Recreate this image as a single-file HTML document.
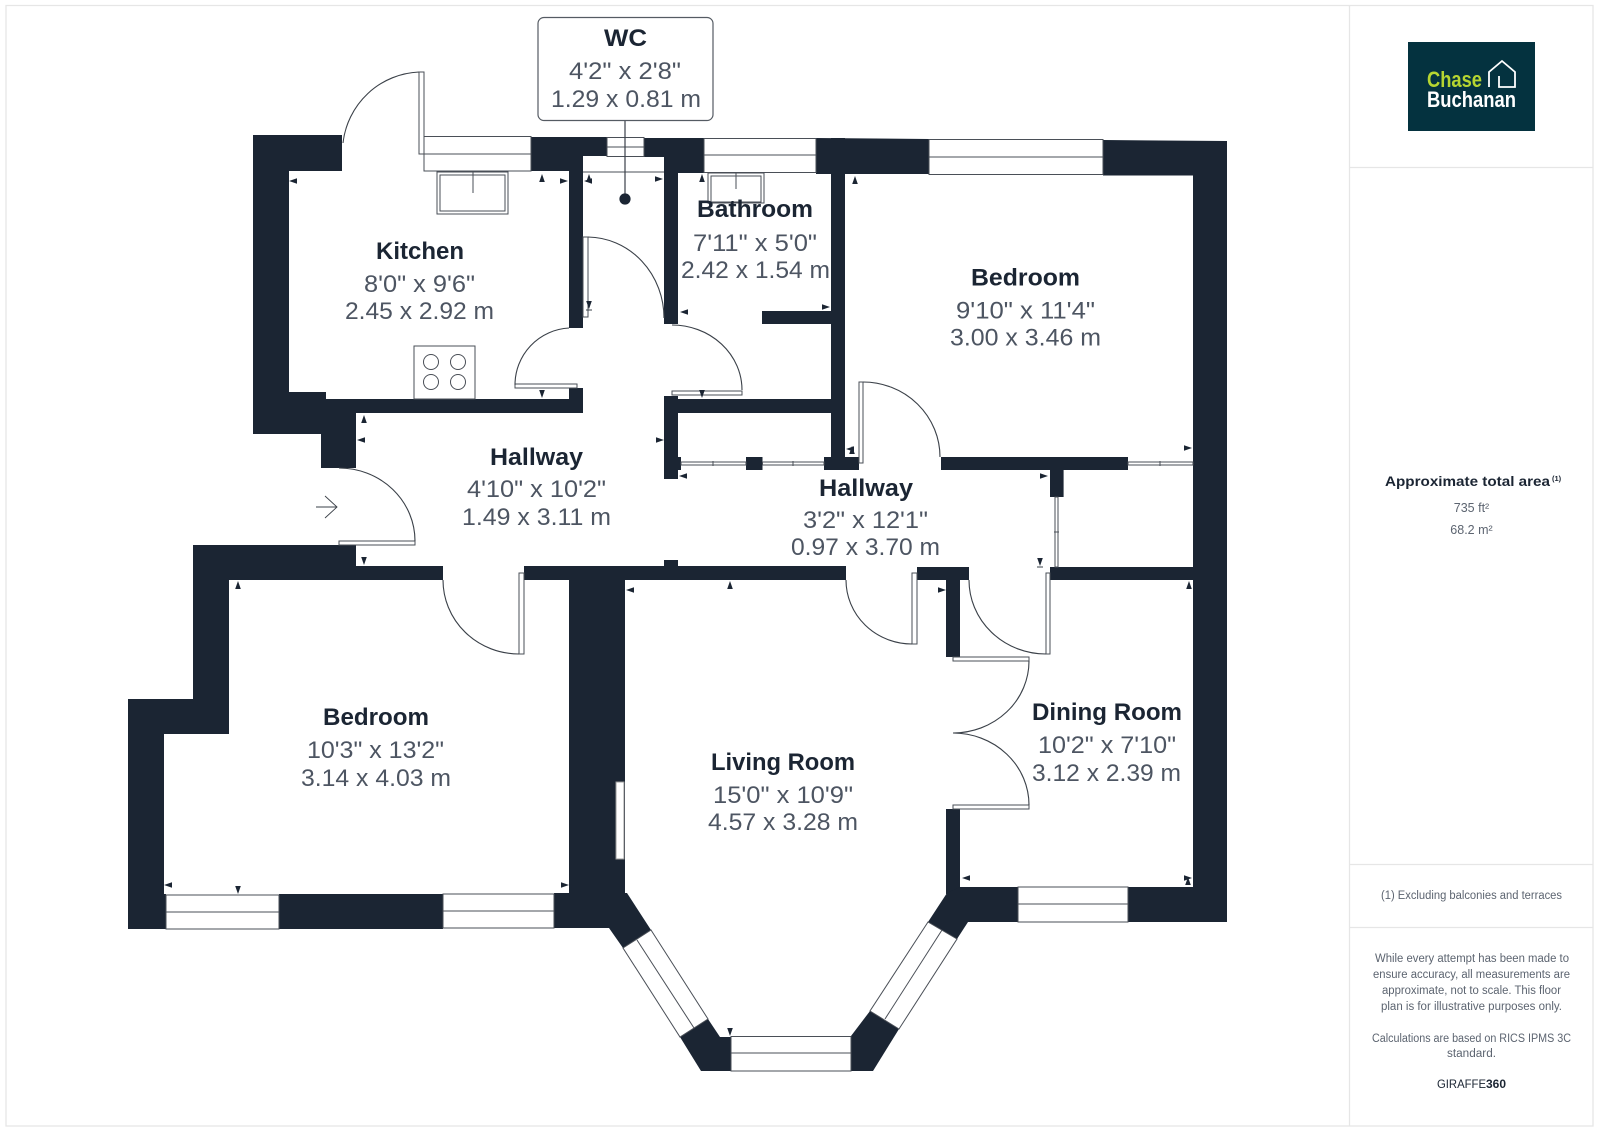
<!DOCTYPE html>
<html><head><meta charset="utf-8"><title>Floor plan</title>
<style>
html,body{margin:0;padding:0;background:#fff}
svg{display:block}
.h{font:700 24px "Liberation Sans",sans-serif;fill:#1b2533;text-anchor:start}
.b{font:400 24px "Liberation Sans",sans-serif;fill:#4d5562;text-anchor:start}
.s{font:400 11.5px "Liberation Sans",sans-serif;fill:#5c6470}
.w{fill:#1b2533}
.o{fill:#fff;stroke:#4a4f57;stroke-width:1}
.l{fill:none;stroke:#3a4048;stroke-width:1.1}
</style></head><body>
<svg width="1600" height="1131" viewBox="0 0 1600 1131" xmlns="http://www.w3.org/2000/svg">
<defs><path id="t" d="M0,0L-2.8,8L2.8,8Z" fill="#1b2533"/></defs>
<rect width="1600" height="1131" fill="#fff"/>
<!-- frame -->
<g fill="none" stroke="#e6e6e6" stroke-width="1.3">
<rect x="6" y="5.5" width="1587" height="1120.5"/>
<path d="M1349.5 5V1126M1350 167.5H1593M1350 864.5H1593M1350 927.5H1593"/>
</g>
<!-- walls -->
<g class="w">
<rect x="253" y="135" width="89" height="36"/>
<rect x="253" y="135" width="36" height="299"/>
<rect x="253" y="392" width="73" height="42"/>
<rect x="321" y="399" width="35" height="69"/>
<rect x="325" y="399" width="258" height="14"/>
<rect x="569" y="388" width="14" height="25"/>
<rect x="569" y="137" width="14" height="191"/>
<rect x="531" y="137" width="38" height="34"/>
<rect x="569" y="137" width="38" height="19"/>
<rect x="644" y="138" width="20" height="19"/>
<rect x="664" y="138" width="14" height="186"/>
<rect x="678" y="138" width="26" height="35"/>
<polygon points="816,138 929,139 929,174 816,174"/>
<polygon points="1103,140 1227,141 1227,175.5 1103,175.5"/>
<rect x="831" y="138" width="14" height="332"/>
<rect x="762" y="311" width="69" height="13"/>
<rect x="678" y="399" width="154" height="14"/>
<rect x="664" y="396" width="14" height="83"/>
<rect x="678" y="457" width="3" height="13"/>
<rect x="824" y="457" width="35" height="13"/>
<rect x="746" y="457" width="16.500" height="13"/>
<rect x="941" y="457" width="187" height="13"/>
<rect x="1050" y="470" width="13.600" height="27"/>
<rect x="1193" y="141" width="34" height="781"/>
<rect x="960" y="887" width="58" height="35"/>
<rect x="1128" y="887" width="99" height="35"/>
<rect x="946" y="809" width="14" height="85"/>
<polygon points="947,893 960,887 968,887 968,922 957,939 928,922"/>
<rect x="193" y="545" width="163" height="35"/>
<rect x="356" y="566" width="87" height="14"/>
<rect x="524" y="566" width="308" height="14"/>
<rect x="832" y="566" width="14" height="14"/>
<rect x="664" y="560" width="14" height="6"/>
<rect x="917" y="567" width="52" height="13"/>
<rect x="946" y="580" width="14" height="77"/>
<rect x="1050" y="567" width="143" height="13"/>
<rect x="193" y="545" width="36" height="189"/>
<rect x="128" y="699" width="101" height="35"/>
<rect x="128" y="699" width="36" height="230"/>
<rect x="128" y="894" width="38" height="35"/>
<rect x="279" y="894" width="164" height="35"/>
<rect x="554" y="893" width="71" height="35"/>
<rect x="569" y="566" width="56" height="330"/>
<polygon points="625,893 627,893 651,930 623,948 609,928 600,928 600,893"/>
<polygon points="708,1019 720,1037 731,1037 731,1071 701,1071 680,1037"/>
<polygon points="870,1011 899,1029 873,1071 851,1071 851,1036"/>
</g>
<!-- windows -->
<g class="o">
<rect x="424" y="136.500" width="107" height="34.500"/><path d="M419 154H531"/>
<rect x="607" y="137.500" width="37" height="19"/><path d="M607 147H644M583 172H664"/>
<rect x="704" y="138.500" width="112" height="34"/><path d="M704 155H816"/>
<rect x="929" y="139.500" width="174" height="35"/><path d="M929 157H1103"/>
<rect x="1018" y="887" width="110" height="35"/><path d="M1018 904H1128"/>
<rect x="166" y="895" width="113" height="34"/><path d="M166 912H279"/>
<rect x="443" y="894" width="111" height="34"/><path d="M443 911H554"/>
<rect x="731" y="1036.500" width="120" height="34.500"/><path d="M731 1053H851"/>
<polygon points="928,922 870,1011 899,1029 957,939"/><path d="M942,930L885,1019"/>
<polygon points="651,930 708,1019 680,1037 623,948"/><path d="M637,940L694,1028"/>
<rect x="616" y="782" width="8" height="77" stroke="#999"/>
<!-- door leaves -->
<rect x="419" y="72" width="5" height="82"/>
<rect x="583" y="237" width="5" height="80"/>
<rect x="515" y="384" width="62" height="4"/>
<rect x="672" y="391" width="70" height="4"/>
<rect x="339" y="541" width="76" height="4"/>
<rect x="519" y="573" width="5" height="81"/>
<rect x="859" y="382" width="4" height="81"/>
<rect x="912" y="573" width="5" height="71"/>
<rect x="1046" y="573" width="4" height="81"/>
<rect x="953" y="657" width="76" height="4"/>
<rect x="953" y="805" width="76" height="4"/>
<!-- sliding -->
<rect x="681" y="462" width="65" height="3"/><path d="M713 461V466"/>
<rect x="762.500" y="462" width="61.500" height="3"/><path d="M793 461V466"/>
<rect x="1128" y="462" width="65" height="3"/><path d="M1160 461V466"/>
<rect x="1055" y="497" width="3" height="70"/><path d="M1054 532H1059"/>
<!-- fixtures -->
<rect x="437" y="172" width="71" height="42"/><rect x="440" y="175" width="65" height="36"/><path d="M473 172V193"/>
<rect x="708" y="173" width="56" height="30"/><rect x="711" y="176" width="50" height="26"/><path d="M736 173V189"/>
<rect x="414" y="346" width="61" height="53"/>
<circle cx="431" cy="362" r="7.500"/><circle cx="458" cy="362" r="7.500"/><circle cx="431" cy="382" r="7.500"/><circle cx="458" cy="382" r="7.500"/>
</g>
<!-- door arcs -->
<g class="l">
<path d="M419,72A80,80 0 0 0 343,143"/>
<path d="M588,237A77,81 0 0 1 664,318"/>
<path d="M569,328A57,57 0 0 0 515,385"/>
<path d="M672,325A70,65 0 0 1 742,390"/>
<path d="M339,468A76,73 0 0 1 415,541"/>
<path d="M443,580A76,74 0 0 0 519,654"/>
<path d="M863,382A77,75 0 0 1 940,457"/>
<path d="M846,580A66,64 0 0 0 912,644"/>
<path d="M969,580A77,74 0 0 0 1046,654"/>
<path d="M1029,661A76,72 0 0 1 953,733"/>
<path d="M1029,805A76,72 0 0 0 953,733"/>
<path d="M316,507H337M325,496L337,507L325,518" stroke-width=".9"/>
<path d="M586,310H592M1037,567H1043"/>
</g>
<!-- markers -->
<g>
<use href="#t" transform="translate(289,181) rotate(-90)"/>
<use href="#t" transform="translate(357,440) rotate(-90)"/>
<use href="#t" transform="translate(680,312) rotate(-90)"/>
<use href="#t" transform="translate(679,476) rotate(-90)"/>
<use href="#t" transform="translate(626,590) rotate(-90)"/>
<use href="#t" transform="translate(962,878) rotate(-90)"/>
<use href="#t" transform="translate(164,885) rotate(-90)"/>
<use href="#t" transform="translate(846,449) rotate(-90)"/>
<use href="#t" transform="translate(584,181) rotate(-90)"/>
<use href="#t" transform="translate(568,181) rotate(90)"/>
<use href="#t" transform="translate(663,179) rotate(90)"/>
<use href="#t" transform="translate(830,307) rotate(90)"/>
<use href="#t" transform="translate(664,440) rotate(90)"/>
<use href="#t" transform="translate(1048,476) rotate(90)"/>
<use href="#t" transform="translate(946,590) rotate(90)"/>
<use href="#t" transform="translate(1192,448) rotate(90)"/>
<use href="#t" transform="translate(569,885) rotate(90)"/>
<use href="#t" transform="translate(1192,878) rotate(90)"/>
<use href="#t" transform="translate(542,174)"/>
<use href="#t" transform="translate(589,174)"/>
<use href="#t" transform="translate(702,174)"/>
<use href="#t" transform="translate(855,176)"/>
<use href="#t" transform="translate(364,415)"/>
<use href="#t" transform="translate(730,581)"/>
<use href="#t" transform="translate(1189,581)"/>
<use href="#t" transform="translate(238,581)"/>
<use href="#t" transform="translate(852,446)"/>
<use href="#t" transform="translate(1188,877)"/>
<use href="#t" transform="translate(589,309) rotate(180)"/>
<use href="#t" transform="translate(542,398) rotate(180)"/>
<use href="#t" transform="translate(702,398) rotate(180)"/>
<use href="#t" transform="translate(364,565) rotate(180)"/>
<use href="#t" transform="translate(1040,566) rotate(180)"/>
<use href="#t" transform="translate(730,1036) rotate(180)"/>
<use href="#t" transform="translate(238,894) rotate(180)"/>
</g>
<!-- WC callout -->
<path d="M625 120V199" stroke="#3a4048" stroke-width="1.2"/>
<circle cx="625" cy="199" r="5.600" fill="#1b2533"/>
<rect x="538" y="17.500" width="175" height="103" rx="6" fill="#fff" stroke="#555b63" stroke-width="1.2"/>
<!-- labels -->
<text class="h" x="604" y="46" textLength="43" lengthAdjust="spacingAndGlyphs">WC</text>
<text class="b" x="569" y="79" textLength="112" lengthAdjust="spacingAndGlyphs">4'2" x 2'8"</text>
<text class="b" x="551" y="107" textLength="150" lengthAdjust="spacingAndGlyphs">1.29 x 0.81 m</text>
<text class="h" x="376" y="259" textLength="88" lengthAdjust="spacingAndGlyphs">Kitchen</text>
<text class="b" x="364" y="292" textLength="111" lengthAdjust="spacingAndGlyphs">8'0" x 9'6"</text>
<text class="b" x="345" y="319" textLength="149" lengthAdjust="spacingAndGlyphs">2.45 x 2.92 m</text>
<text class="h" x="697" y="217" textLength="116" lengthAdjust="spacingAndGlyphs">Bathroom</text>
<text class="b" x="693" y="251" textLength="124" lengthAdjust="spacingAndGlyphs">7'11" x 5'0"</text>
<text class="b" x="681" y="278" textLength="149" lengthAdjust="spacingAndGlyphs">2.42 x 1.54 m</text>
<text class="h" x="971" y="285.500" textLength="109" lengthAdjust="spacingAndGlyphs">Bedroom</text>
<text class="b" x="956" y="318.500" textLength="139" lengthAdjust="spacingAndGlyphs">9'10" x 11'4"</text>
<text class="b" x="950" y="345.500" textLength="151" lengthAdjust="spacingAndGlyphs">3.00 x 3.46 m</text>
<text class="h" x="490" y="465" textLength="93" lengthAdjust="spacingAndGlyphs">Hallway</text>
<text class="b" x="467" y="497" textLength="139" lengthAdjust="spacingAndGlyphs">4'10" x 10'2"</text>
<text class="b" x="462" y="525" textLength="149" lengthAdjust="spacingAndGlyphs">1.49 x 3.11 m</text>
<text class="h" x="819" y="496" textLength="94" lengthAdjust="spacingAndGlyphs">Hallway</text>
<text class="b" x="803" y="528" textLength="125" lengthAdjust="spacingAndGlyphs">3'2" x 12'1"</text>
<text class="b" x="791" y="555" textLength="149" lengthAdjust="spacingAndGlyphs">0.97 x 3.70 m</text>
<text class="h" x="323" y="725" textLength="106" lengthAdjust="spacingAndGlyphs">Bedroom</text>
<text class="b" x="307" y="758" textLength="137" lengthAdjust="spacingAndGlyphs">10'3" x 13'2"</text>
<text class="b" x="301" y="786" textLength="150" lengthAdjust="spacingAndGlyphs">3.14 x 4.03 m</text>
<text class="h" x="711" y="770" textLength="144" lengthAdjust="spacingAndGlyphs">Living Room</text>
<text class="b" x="713" y="803" textLength="140" lengthAdjust="spacingAndGlyphs">15'0" x 10'9"</text>
<text class="b" x="708" y="830" textLength="150" lengthAdjust="spacingAndGlyphs">4.57 x 3.28 m</text>
<text class="h" x="1032" y="720" textLength="150" lengthAdjust="spacingAndGlyphs">Dining Room</text>
<text class="b" x="1038" y="753" textLength="138" lengthAdjust="spacingAndGlyphs">10'2" x 7'10"</text>
<text class="b" x="1032" y="781" textLength="149" lengthAdjust="spacingAndGlyphs">3.12 x 2.39 m</text>
<!-- logo -->
<rect x="1408" y="42" width="127" height="89" fill="#04323f"/>
<text x="1427" y="87" textLength="55" lengthAdjust="spacingAndGlyphs" style="font:700 22px 'Liberation Sans',sans-serif;fill:#b6d531">Chase</text>
<text x="1427" y="107" textLength="89" lengthAdjust="spacingAndGlyphs" style="font:700 22px 'Liberation Sans',sans-serif;fill:#fff">Buchanan</text>
<path d="M1489 87V72L1502 61L1515 72V87H1499V76" fill="none" stroke="#fff" stroke-width="1.800"/>
<!-- sidebar text -->
<text x="1385" y="486" textLength="165" lengthAdjust="spacingAndGlyphs" style="font:700 13.500px 'Liberation Sans',sans-serif;fill:#1b2533">Approximate total area</text>
<text x="1552" y="481" style="font:700 7.500px 'Liberation Sans',sans-serif;fill:#1b2533">(1)</text>
<text x="1471.500" y="512" text-anchor="middle" style="font:400 12.500px 'Liberation Sans',sans-serif;fill:#5c6470">735 ft²</text>
<text x="1471.500" y="534" text-anchor="middle" style="font:400 12.500px 'Liberation Sans',sans-serif;fill:#5c6470">68.2 m²</text>
<text class="s" x="1381" y="899" textLength="181" lengthAdjust="spacingAndGlyphs">(1) Excluding balconies and terraces</text>
<text class="s" x="1375" y="962" textLength="194" lengthAdjust="spacingAndGlyphs">While every attempt has been made to</text>
<text class="s" x="1373" y="978" textLength="197" lengthAdjust="spacingAndGlyphs">ensure accuracy, all measurements are</text>
<text class="s" x="1382" y="994" textLength="179" lengthAdjust="spacingAndGlyphs">approximate, not to scale. This floor</text>
<text class="s" x="1381" y="1010" textLength="181" lengthAdjust="spacingAndGlyphs">plan is for illustrative purposes only.</text>
<text class="s" x="1372" y="1042" textLength="199" lengthAdjust="spacingAndGlyphs">Calculations are based on RICS IPMS 3C</text>
<text class="s" x="1447" y="1057" textLength="49" lengthAdjust="spacingAndGlyphs">standard.</text>
<text x="1437" y="1088" textLength="49" lengthAdjust="spacingAndGlyphs" style="font:400 12px 'Liberation Sans',sans-serif;fill:#1b2533">GIRAFFE</text>
<text x="1486" y="1088" textLength="20" lengthAdjust="spacingAndGlyphs" style="font:700 12px 'Liberation Sans',sans-serif;fill:#1b2533">360</text>
</svg>
</body></html>
